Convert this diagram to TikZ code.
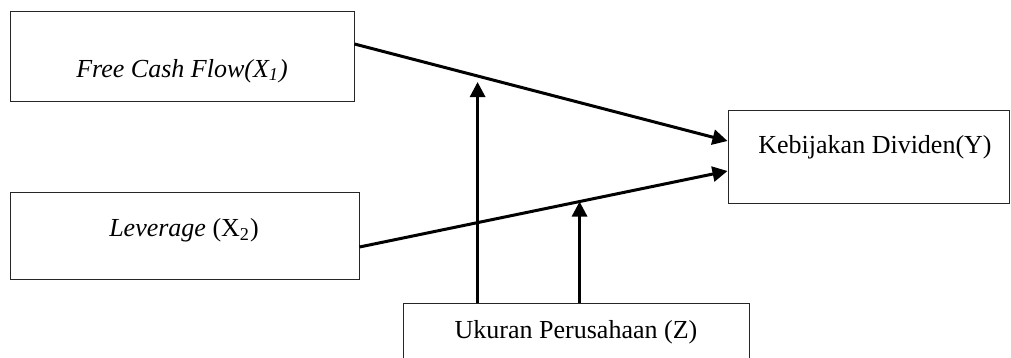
\documentclass[tikz,border=0pt]{standalone}
\usepackage{fontspec}
\setmainfont{Liberation Serif}
\usetikzlibrary{arrows.meta,positioning}

\tikzset{
  varbox/.style={draw=black!85, line width=0.5pt, rectangle, inner sep=0pt},
  vartext/.style={font=\fontsize{13}{15}\selectfont, inner sep=0pt},
  link/.style={line width=1.5pt, -{Triangle[length=7.5pt,width=7.5pt]}}
}

\begin{document}
\begin{tikzpicture}[x=0.5pt, y=-0.5pt]
\useasboundingbox (0,0) rectangle (1011,358);
\clip (0,0) rectangle (1011,358);
%%%%% Boxes %%%%%
\node[varbox, minimum width=172pt, minimum height=45pt] (fcf) at (182,57) {};
\node[varbox, minimum width=174.5pt, minimum height=43.5pt] (lev) at (184.5,235.5) {};
\node[varbox, minimum width=140.5pt, minimum height=46pt] (div) at (868.5,157) {};
\node[varbox, minimum width=173pt, minimum height=45pt] (size) at (576,348) {};
%%%%% Labels %%%%%
\node[vartext] (fcf-t) at (182,71) {\textit{Free Cash Flow(X\textsubscript{1})}};
\node[vartext] (lev-t) at (184,230) {\textit{Leverage} (X\textsubscript{2})};
\node[vartext] (div-t) at (875,147) {Kebijakan Dividen(Y)};
\node[vartext] (size-t) at (576,332) {Ukuran Perusahaan (Z)};
%%%%% Arrows %%%%%
\coordinate (fcf-out) at ([yshift=6.5pt]fcf.east);
\coordinate (lev-out) at ([yshift=-5.75pt]lev.east);
\coordinate (div-in1) at ([yshift=8pt]div.west);
\coordinate (div-in2) at ([yshift=-7pt]div.west);
\draw[link] (fcf-out) -- coordinate[pos=0.33] (m1) (div-in1);
\draw[link] (lev-out) -- coordinate[pos=0.598] (m2) (div-in2);
\foreach \m/\s in {m1/3pt, m2/0pt}{
\draw[link] (size.north -| \m) -- ([yshift=-\s]\m);
}
\end{tikzpicture}
\end{document}
